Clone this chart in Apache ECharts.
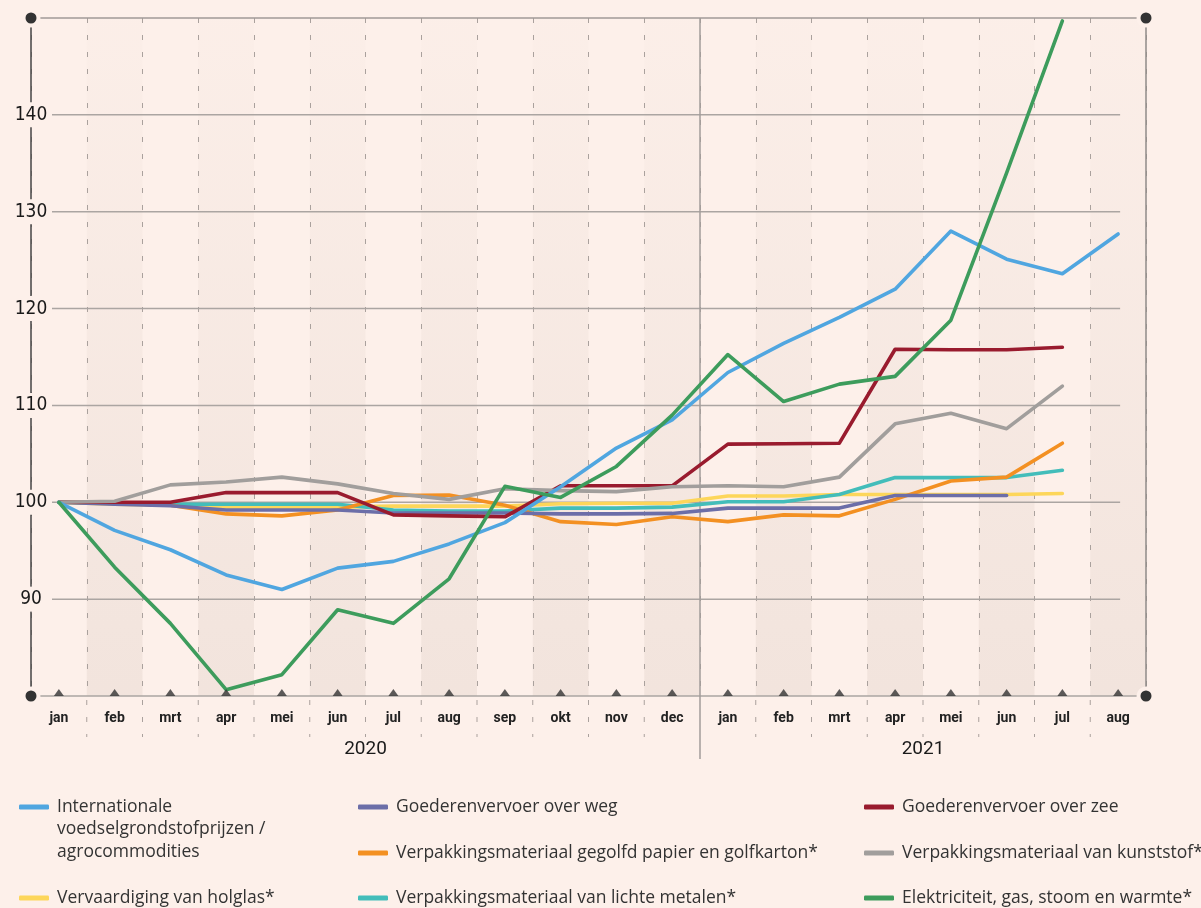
<!DOCTYPE html>
<html>
<head>
<meta charset="utf-8">
<script src="https://cdn.jsdelivr.net/npm/echarts@6/dist/echarts.min.js"></script>
<style>
html,body{margin:0;padding:0;background:#fdf0ea;}
#c{width:1201px;height:908px;}
</style>
</head>
<body>
<div id="c"></div>
<script>
// ---------- data ----------
const months = ['jan','feb','mrt','apr','mei','jun','jul','aug','sep','okt','nov','dec',
                'jan','feb','mrt','apr','mei','jun','jul','aug'];
const monthYears = [2020,2020,2020,2020,2020,2020,2020,2020,2020,2020,2020,2020,
                    2021,2021,2021,2021,2021,2021,2021,2021];
const yMin = 80, yMax = 150, yStep = 10;
const yTickLabels = [90, 100, 110, 120, 130, 140];

const agro      = [100, 97.1, 95.1, 92.5, 91.0, 93.2, 93.9, 95.7, 97.9, 101.6, 105.6, 108.5, 113.4, 116.4, 119.1, 122.0, 128.0, 125.1, 123.6, 127.7];
const weg       = [100, 99.8, 99.65, 99.2, 99.2, 99.2, 98.9, 98.9, 98.9, 98.8, 98.8, 98.85, 99.4, 99.4, 99.4, 100.7, 100.7, 100.7, null, null];
const zee       = [100, 100, 100, 101.0, 101.0, 101.0, 98.7, 98.6, 98.5, 101.7, 101.7, 101.7, 106.0, 106.05, 106.1, 115.8, 115.75, 115.75, 116.0, null];
const papier    = [100, 99.9, 99.7, 98.8, 98.6, 99.2, 100.7, 100.75, 99.7, 98.0, 97.7, 98.5, 98.0, 98.7, 98.6, 100.3, 102.2, 102.6, 106.1, null];
const kunststof = [100, 100.1, 101.8, 102.1, 102.6, 101.9, 100.9, 100.3, 101.4, 101.2, 101.1, 101.6, 101.7, 101.6, 102.6, 108.1, 109.2, 107.6, 112.0, null];
const holglas   = [100, 99.8, 99.7, 99.45, 99.45, 99.5, 99.6, 99.6, 99.6, 99.85, 99.9, 99.9, 100.65, 100.65, 100.8, 100.8, 100.8, 100.8, 100.9, null];
const metalen   = [100, 99.9, 99.8, 99.8, 99.8, 99.8, 99.2, 99.1, 99.1, 99.4, 99.4, 99.5, 100.05, 100.05, 100.8, 102.55, 102.55, 102.55, 103.3, null];
const energie   = [100, 93.3, 87.5, 80.65, 82.2, 88.9, 87.5, 92.1, 101.65, 100.5, 103.7, 109.0, 115.25, 110.4, 112.2, 113.0, 118.8, 134.0, 149.7, null];

const names = {
  agro: 'Internationale voedselgrondstofprijzen / agrocommodities',
  weg: 'Goederenvervoer over weg',
  zee: 'Goederenvervoer over zee',
  papier: 'Verpakkingsmateriaal gegolfd papier en golfkarton*',
  kunststof: 'Verpakkingsmateriaal van kunststof*',
  holglas: 'Vervaardiging van holglas*',
  metalen: 'Verpakkingsmateriaal van lichte metalen*',
  energie: 'Elektriciteit, gas, stoom en warmte*'
};
const agroLines = ['Internationale', 'voedselgrondstofprijzen /', 'agrocommodities'];

// ---------- styles ----------
const BG = '#fdf0ea';
const colors = {
  agro: '#50a6e0', weg: '#6c6ea8', zee: '#991b2e', papier: '#f39022',
  kunststof: '#a19e9c', holglas: '#fdd65a', metalen: '#43bdba', energie: '#3d9c5c'
};
const drawOrder = [
  ['holglas', holglas], ['metalen', metalen], ['papier', papier], ['weg', weg],
  ['zee', zee], ['kunststof', kunststof], ['agro', agro], ['energie', energie]
];
const legendLayout = [
  ['agro', 19, 806], ['weg', 358, 806], ['zee', 864, 806],
  ['papier', 358, 852], ['kunststof', 864, 852],
  ['holglas', 19, 897], ['metalen', 358, 897], ['energie', 864, 897]
];
const LEG_FONT = '"Open Sans", Roboto, sans-serif';
const LEG_SIZE = 17.5;
const AX_FONT = 'Roboto, "DejaVu Sans", sans-serif';
const Y_FONT = '"DejaVu Sans Condensed", Roboto, sans-serif';

const chart = echarts.init(document.getElementById('c'), null, {renderer: 'canvas'});

const series = drawOrder.map(([key, arr]) => ({
  name: names[key],
  type: 'line',
  data: arr,
  symbol: 'none',
  clip: false,
  connectNulls: false,
  lineStyle: {color: colors[key], width: 3.6, cap: 'round', join: 'round'},
  itemStyle: {color: colors[key]},
  z: 3
}));
series.push({
  type: 'scatter',
  data: months.map((m, i) => [i, yMin]),
  symbol: 'triangle',
  symbolSize: [10, 7],
  symbolOffset: [0, -3.5],
  itemStyle: {color: '#333'},
  silent: true,
  clip: false,
  z: 4
});

const legends = legendLayout.map(([key, left, cy]) => ({
  data: [names[key]],
  left: left,
  top: cy - 10,
  padding: 0,
  orient: 'horizontal',
  icon: 'roundRect',
  itemWidth: 30,
  itemHeight: 5,
  selectedMode: false,
  formatter: key === 'agro' ? () => agroLines[0] : undefined,
  textStyle: {fontFamily: LEG_FONT, fontSize: LEG_SIZE, color: '#333', lineHeight: 22, padding: [0, 0, 0, 3]}
}));

chart.setOption({
  animation: false,
  backgroundColor: BG,
  grid: {left: 31, right: 55, top: 18, bottom: 212, containLabel: false},
  legend: legends,
  xAxis: [{
    type: 'category',
    data: months,
    boundaryGap: true,
    axisLine: {show: true, lineStyle: {color: '#aaa5a2', width: 1.5}},
    axisTick: {show: false},
    axisLabel: {interval: 0, margin: 15, fontFamily: AX_FONT, fontSize: 14, fontWeight: 'bold', color: '#222'},
    splitLine: {show: true, interval: 0, lineStyle: {color: '#aaa19d', width: 1, type: [5, 12]}},
    splitArea: {show: true, interval: 0, areaStyle: {color: [
      'rgba(0,0,0,0)',
      {type: 'linear', x: 0, y: 0, x2: 0, y2: 1, colorStops: [
        {offset: 0, color: 'rgba(233,218,210,0.08)'},
        {offset: 1, color: 'rgba(233,218,210,0.55)'}
      ]}
    ]}}
  }],
  yAxis: [{
    type: 'value',
    min: yMin, max: yMax, interval: yStep,
    axisLine: {show: true, lineStyle: {color: '#444', width: 1.5}},
    axisTick: {show: false},
    splitLine: {show: false},
    axisLabel: {
      showMinLabel: false, showMaxLabel: false,
      align: 'center', margin: 0,
      fontFamily: Y_FONT, fontSize: 19, color: '#1a1a1a',
      backgroundColor: BG, padding: [3, 4],
      formatter: v => yTickLabels.indexOf(v) >= 0 ? String(v) : ''
    }
  }],
  series: series
});

// ---------- decorations computed through the axes ----------
const px = i => chart.convertToPixel({xAxisIndex: 0}, i);
const py = v => chart.convertToPixel({yAxisIndex: 0}, v);
const band = px(1) - px(0);
const bnd = i => px(0) - band / 2 + i * band;
const n = months.length;
const yTop = py(yMax), yBot = py(yMin);
const xL = bnd(0), xR = bnd(n);
const g = [];

yTickLabels.forEach(v => {
  g.push({type: 'line', z: 1, silent: true,
    shape: {x1: xL + 21, y1: py(v), x2: px(n - 1) + 2, y2: py(v)},
    style: {stroke: '#aba5a2', lineWidth: 1.5}});
});
g.push({type: 'line', z: 1, silent: true, shape: {x1: xL, y1: yTop, x2: xR, y2: yTop},
  style: {stroke: '#a09a97', lineWidth: 1.5}});
g.push({type: 'line', z: 1, silent: true, shape: {x1: xR, y1: yTop, x2: xR, y2: yBot},
  style: {stroke: '#8f8b89', lineWidth: 1.5}});
for (let i = 1; i < n; i++) {
  if (monthYears[i] !== monthYears[i - 1]) {
    g.push({type: 'line', z: 1, silent: true, shape: {x1: bnd(i), y1: yTop, x2: bnd(i), y2: yBot + 63},
      style: {stroke: '#a29d9a', lineWidth: 1.5}});
  } else {
    g.push({type: 'line', z: 1, silent: true, shape: {x1: bnd(i), y1: yBot + 4, x2: bnd(i), y2: yBot + 41},
      style: {stroke: '#aaa19d', lineWidth: 1, lineDash: [5, 12]}});
  }
}
[[xL, yTop], [xR, yTop], [xL, yBot], [xR, yBot]].forEach(([x, y]) => {
  g.push({type: 'circle', z: 10, silent: true, shape: {cx: x, cy: y, r: 7.5},
    style: {fill: '#333', stroke: BG, lineWidth: 4}});
});
const yearsList = [...new Set(monthYears)];
yearsList.forEach(yr => {
  const first = monthYears.indexOf(yr), last = monthYears.lastIndexOf(yr);
  g.push({type: 'text', z: 5, silent: true,
    style: {text: String(yr), x: (bnd(first) + bnd(last + 1)) / 2, y: yBot + 53,
      align: 'center', verticalAlign: 'middle', font: '19px ' + AX_FONT, fill: '#1a1a1a'}});
});
agroLines.slice(1).forEach((t, k) => {
  g.push({type: 'text', z: 5, silent: true,
    style: {text: t, x: 19 + 30 + 5 + 3, y: 806 + 23 * (k + 1), align: 'left', verticalAlign: 'middle',
      font: LEG_SIZE + 'px ' + LEG_FONT, fill: '#333'}});
});
chart.setOption({graphic: g});
</script>
</body>
</html>
